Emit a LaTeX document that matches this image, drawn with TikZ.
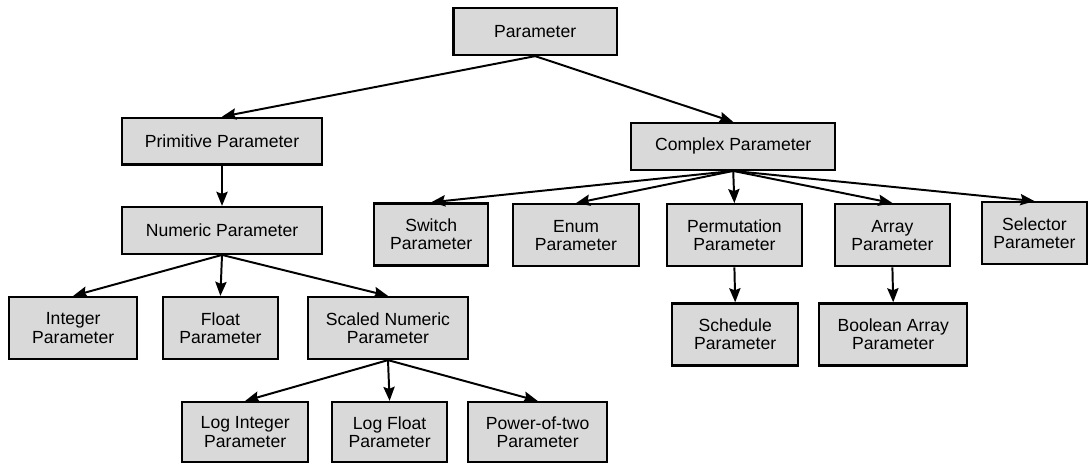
\documentclass[tikz,border=0pt]{standalone}
\usepackage{fontspec}
\setmainfont{Liberation Sans}
\usetikzlibrary{arrows.meta}

\begin{document}
\begin{tikzpicture}[
  font=\fontsize{12.5}{13}\selectfont,
  box/.style={draw, line width=1.6pt, fill=black!15, align=center,
              inner sep=0pt, minimum height=1.17cm},
  tall/.style={box, minimum height=1.55cm},
  arr/.style={-{Stealth[length=10pt, width=8pt, inset=1.5pt]}, line width=1.4pt}
]
\useasboundingbox (0,0) rectangle (27.275,-11.575);

\node[box, minimum width=4.08cm]  (param)   at (13.38,-0.79)  {Parameter};

%% primitive branch
\node[box, minimum width=5.0cm]   (prim)    at (5.55,-3.53)   {Primitive Parameter};
\node[box, minimum width=5.0cm]   (numeric) at (5.55,-5.76)   {Numeric Parameter};
\node[tall, minimum width=3.2cm]  (int)     at (1.83,-8.2)    {Integer\\Parameter};
\node[tall, minimum width=2.88cm] (float)   at (5.51,-8.2)    {Float\\Parameter};
\node[tall, minimum width=4.0cm]  (scaled)  at (9.7,-8.2)     {Scaled Numeric\\Parameter};
\node[tall, minimum width=3.15cm, minimum height=1.5cm]
                                  (logint)  at (6.13,-10.8)   {Log Integer\\Parameter};
\node[tall, minimum width=2.88cm, minimum height=1.5cm]
                                  (logfloat) at (9.74,-10.8)  {Log Float\\Parameter};
\node[tall, minimum width=3.48cm, minimum height=1.5cm]
                                  (pow)     at (13.44,-10.8)  {Power-of-two\\Parameter};

%% complex branch
\node[box, minimum width=5.1cm]   (complex) at (18.33,-3.66)  {Complex Parameter};
\node[tall, minimum width=2.85cm] (switch)  at (10.78,-5.86)  {Switch\\Parameter};
\node[tall, minimum width=3.15cm] (enum)    at (14.4,-5.88)   {Enum\\Parameter};
\node[tall, minimum width=3.38cm] (perm)    at (18.36,-5.88)  {Permutation\\Parameter};
\node[tall, minimum width=2.88cm] (array)   at (22.31,-5.88)  {Array\\Parameter};
\node[tall, minimum width=2.63cm] (select)  at (25.86,-5.83)  {Selector\\Parameter};
\node[tall, minimum width=3.15cm] (sched)   at (18.38,-8.36)  {Schedule\\Parameter};
\node[tall, minimum width=3.7cm]  (boolarr) at (22.33,-8.36)  {Boolean Array\\Parameter};

\draw[arr] (param.south) -- (prim.north);
\draw[arr] (param.south) -- (complex.north);
\draw[arr] (prim.south) -- (numeric.north);

\foreach \child in {int, float, scaled}
  \draw[arr] (numeric.south) -- (\child.north);
\foreach \child in {logint, logfloat, pow}
  \draw[arr] (scaled.south) -- (\child.north);
\foreach \child in {switch, enum, perm, array, select}
  \draw[arr] (complex.south) -- (\child.north);

\draw[arr] (perm.south) -- (sched.north);
\draw[arr] (array.south) -- (boolarr.north);

\end{tikzpicture}
\end{document}
